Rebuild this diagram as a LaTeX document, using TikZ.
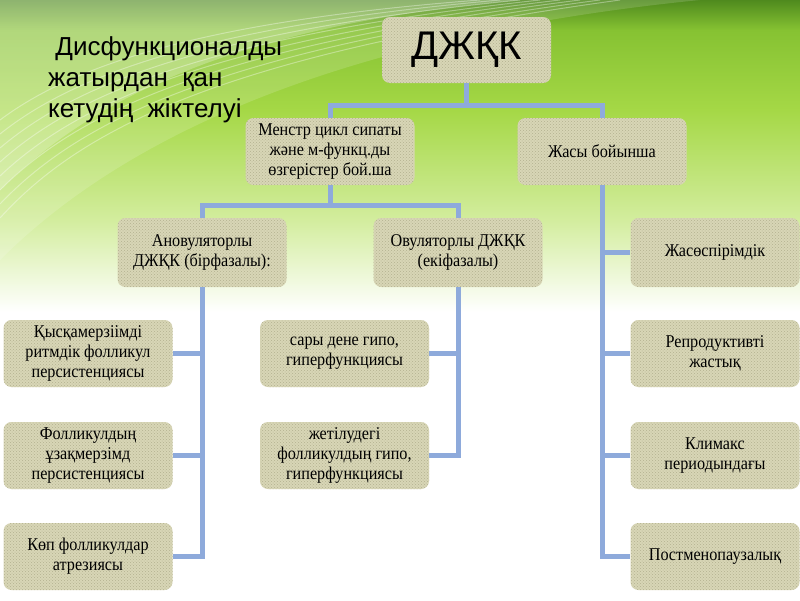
\documentclass[tikz,border=0pt]{standalone}
\usepackage{fontspec}
\setmainfont{Liberation Serif}
\newfontfamily\titlefont{Liberation Sans}
\newfontfamily\boxfont[FakeStretch=0.9]{Liberation Serif}
\usetikzlibrary{patterns}
\definecolor{boxfill}{HTML}{D8D6B6}
\definecolor{boxdot}{HTML}{B3B190}
\definecolor{conn}{HTML}{8EAADB}
\definecolor{g0}{HTML}{4F8A1E}
\definecolor{g1}{HTML}{86C232}
\definecolor{g2}{HTML}{A5D846}
\definecolor{g3}{HTML}{D3ED9E}
\tikzset{
  cbox/.style={draw=none, fill=boxfill, rounded corners=8pt,
    postaction={pattern=crosshatch dots, pattern color=boxdot},
    minimum width=169pt, minimum height=67pt, inner sep=2pt,
    align=center, font=\boxfont\fontsize{18}{20}\selectfont},
  link/.style={draw=conn, line width=5pt},
}
\begin{document}
\begin{tikzpicture}[x=1pt,y=-1pt]
\useasboundingbox (0,0) rectangle (800,600);
% background
\fill[white] (0,0) rectangle (800,600);
\shade[top color=g0, bottom color=g1] (0,0) rectangle (800,30);
\shade[top color=g1, bottom color=g2] (0,30) rectangle (800,110);
\shade[top color=g2, bottom color=g3] (0,110) rectangle (800,220);
\shade[top color=g3, bottom color=white] (0,220) rectangle (800,312);
% light swoosh at top left
\fill[white, opacity=0.25] (0,0) -- (520,0) .. controls (300,20) and (120,70) .. (0,190) -- cycle;
\fill[white, opacity=0.15] (0,0) -- (700,0) .. controls (400,30) and (150,110) .. (0,260) -- cycle;
\foreach \k in {0,...,7}{
  \draw[white, opacity=0.35, line width=1pt]
    (0,120+\k*14) .. controls (80,60+\k*10) and (220,20+\k*5) .. (480+\k*20,0);
}
% title
\node[anchor=base west, align=left, inner sep=0pt,
      font=\titlefont\fontsize{26}{31}\selectfont] (title) at (48,117)
  {\ Дисфункционалды\\жатырдан\ \ қан\\кетудің\ \ жіктелуі};
% nodes
\node[cbox, minimum height=66pt, font=\titlefont\fontsize{40}{44}\selectfont] (top) at (466.5,50) {ДЖҚК};
\node[cbox] (mens) at (330,151.5) {Менстр цикл сипаты\\және м-функц.ды\\өзгерістер бой.ша};
\node[cbox] (age) at (602,151.5) {Жасы бойынша};
\node[cbox, minimum height=69pt] (anov) at (202,252.5) {Ановуляторлы\\ДЖҚК (бірфазалы):};
\node[cbox, minimum height=69pt] (ov) at (458,252.5) {Овуляторлы ДЖҚК\\(екіфазалы)};
\node[cbox, minimum height=69pt] (teen) at (715,252.5) {Жасөспірімдік};
\node[cbox] (l1) at (88,353.5) {Қысқамерзіімді\\ритмдік фолликул\\персистенциясы};
\node[cbox] (l2) at (88,455.5) {Фолликулдың\\ұзақмерзімд\\персистенциясы};
\node[cbox] (l3) at (88,556.5) {Көп фолликулдар\\атрезиясы};
\node[cbox] (m1) at (344.5,353.5) {сары дене гипо,\\гиперфункциясы};
\node[cbox] (m2) at (344.5,455.5) {жетілудегі\\фолликулдың гипо,\\гиперфункциясы};
\node[cbox] (r2) at (715,353.5) {Репродуктивті\\жастық};
\node[cbox] (r3) at (715,455.5) {Климакс\\периодындағы};
\node[cbox] (r4) at (715,556.5) {Постменопаузалық};
% connectors
\draw[link] (top.south) -- ++(0,22) coordinate (j1);
\draw[link] (mens.north) |- (j1) -| (age.north);
\draw[link] (mens.south) -- ++(0,20) coordinate (j2);
\draw[link] (anov.north) |- (j2) -| (ov.north);
\draw[link] (age.south) |- (r4.west);
\draw[link] (age.south |- teen.west) -- (teen.west);
\draw[link] (age.south |- r2.west) -- (r2.west);
\draw[link] (age.south |- r3.west) -- (r3.west);
\draw[link] (anov.south) |- (l3.east);
\draw[link] (anov.south |- l1.east) -- (l1.east);
\draw[link] (anov.south |- l2.east) -- (l2.east);
\draw[link] (ov.south) |- (m2.east);
\draw[link] (ov.south |- m1.east) -- (m1.east);
\end{tikzpicture}
\end{document}
